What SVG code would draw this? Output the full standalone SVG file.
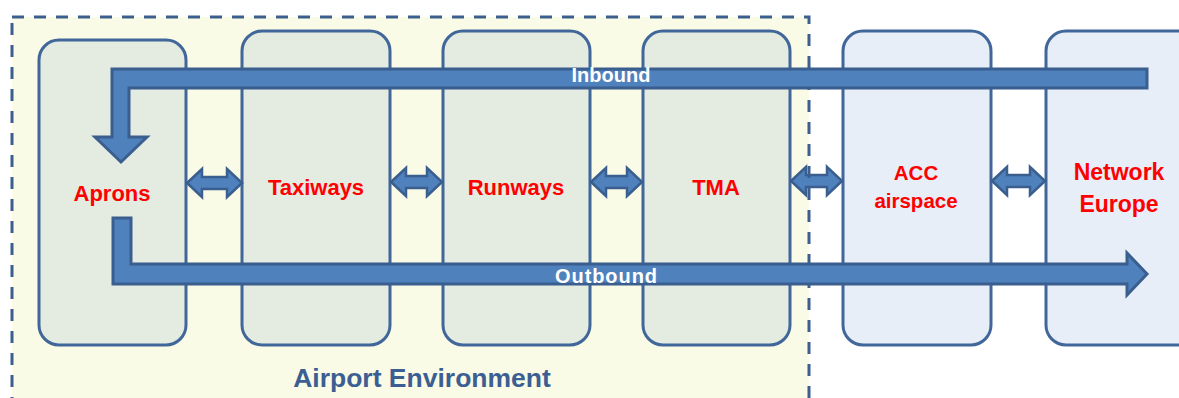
<svg xmlns="http://www.w3.org/2000/svg" width="1179" height="398" viewBox="0 0 1179 398">
  <style>
    .zone-fill { fill: #FAFBE6; }
    .zone-edge { fill: none; stroke: #3D5F8E; stroke-width: 3; stroke-dasharray: 12 10; }
    .box { stroke: #41679A; stroke-width: 3; }
    .apt { fill: #E4EBE0; }
    .air { fill: #E7EEF7; }
    .flow { fill: #4F81BD; stroke: #3A5F8F; stroke-width: 3; stroke-linejoin: miter; }
    .link { fill: #4F81BD; stroke: #3A5F8F; stroke-width: 2.5; stroke-linejoin: miter; }
    .lbl { font-family: "Liberation Sans", Arial, sans-serif; font-weight: bold; fill: #FF0000; text-anchor: middle; }
    .flowlbl { font-family: "Liberation Sans", Arial, sans-serif; font-weight: bold; fill: #FFFFFF; font-size: 20px; text-anchor: middle; }
    .zonelbl { font-family: "Liberation Sans", Arial, sans-serif; font-weight: bold; fill: #3C5F93; font-size: 26.5px; text-anchor: middle; }
  </style>

  <rect width="1179" height="398" fill="#FFFFFF"/>

  <!-- airport environment zone (background) -->
  <rect class="zone-fill" x="12" y="17" width="797" height="400"/>

  <!-- domains -->
  <g id="aprons">
    <rect class="box apt" x="39" y="40" width="147" height="305" rx="20"/>
  </g>
  <g id="taxiways">
    <rect class="box apt" x="242" y="31" width="148" height="314" rx="20"/>
  </g>
  <g id="runways">
    <rect class="box apt" x="443" y="31" width="147" height="314" rx="20"/>
  </g>
  <g id="tma">
    <rect class="box apt" x="643" y="31" width="147" height="314" rx="20"/>
  </g>
  <g id="acc-airspace">
    <rect class="box air" x="843" y="31" width="148" height="314" rx="20"/>
  </g>
  <g id="network-europe">
    <rect class="box air" x="1046" y="31" width="160" height="314" rx="20"/>
  </g>

  <g id="connectors">
    <!-- two-way links between neighbouring domains -->
    <path class="link" d="M187,183 L202,169 L202,177 L227,177 L227,169 L242,183 L227,197 L227,189 L202,189 L202,197 Z"/>
    <path class="link" d="M391,182 L406,168 L406,176 L427,176 L427,168 L442,182 L427,196 L427,188 L406,188 L406,196 Z"/>
    <path class="link" d="M591,182 L606,168 L606,176 L627,176 L627,168 L642,182 L627,196 L627,188 L606,188 L606,196 Z"/>
    <path class="link" d="M791,181 L806,167 L806,175 L827,175 L827,167 L842,181 L827,195 L827,187 L806,187 L806,195 Z"/>
    <path class="link" d="M992,181 L1007,167 L1007,175 L1030,175 L1030,167 L1045,181 L1030,195 L1030,187 L1007,187 L1007,195 Z"/>
  </g>

  <!-- airport environment zone (dashed outline and caption) -->
  <g id="airport-environment">
    <rect class="zone-edge" x="12" y="17" width="797" height="400"/>
    <text class="zonelbl" x="422" y="387">Airport Environment</text>
  </g>

  <g id="flows">
    <path class="flow" d="M1147,69 L112,69 L112,137 L95,137 L121,162 L147,137 L129,137 L129,88 L1147,88 Z"/>
    <path class="flow" d="M113,218 L131,218 L131,264 L1127,264 L1127,253 L1147,274 L1127,295 L1127,284 L113,284 Z"/>
    <text class="flowlbl" x="611" y="82">Inbound</text>
    <text class="flowlbl" x="606" y="283" textLength="102">Outbound</text>
  </g>

  <!-- domain labels -->
  <g id="labels">
    <text class="lbl" x="112" y="201" font-size="22">Aprons</text>
    <text class="lbl" x="316" y="195" font-size="22">Taxiways</text>
    <text class="lbl" x="516" y="195" font-size="22">Runways</text>
    <text class="lbl" x="716" y="195" font-size="22">TMA</text>
    <text class="lbl" x="916" y="180" font-size="20.5">ACC</text>
    <text class="lbl" x="916" y="208" font-size="20.5">airspace</text>
    <text class="lbl" x="1119" y="180" font-size="23">Network</text>
    <text class="lbl" x="1119" y="212" font-size="23">Europe</text>
  </g>
</svg>
